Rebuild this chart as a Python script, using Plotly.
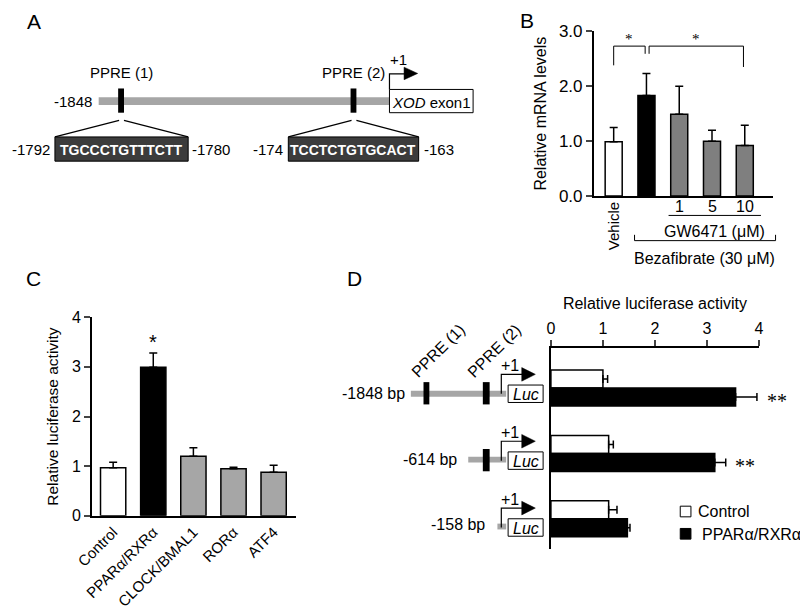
import plotly.graph_objects as go

# ---------------- data ----------------
b_groups = ["Vehicle", "Bezafibrate", "GW6471 1", "GW6471 5", "GW6471 10"]
b_values = [0.99, 1.83, 1.49, 1.00, 0.92]
b_errors = [0.26, 0.40, 0.51, 0.20, 0.37]
b_colors = ["white", "black", "#7f7f7f", "#7f7f7f", "#7f7f7f"]
b_dose_labels = ["1", "5", "10"]

c_groups = ["Control", "PPARα/RXRα", "CLOCK/BMAL1", "RORα", "ATF4"]
c_values = [0.97, 2.99, 1.20, 0.95, 0.88]
c_errors = [0.11, 0.29, 0.17, 0.03, 0.14]
c_colors = ["white", "black", "#a6a6a6", "#a6a6a6", "#a6a6a6"]

d_constructs = ["-1848 bp", "-614 bp", "-158 bp"]
d_control = [1.00, 1.11, 1.11]
d_control_err = [0.09, 0.09, 0.16]
d_ppar = [3.55, 3.15, 1.47]
d_ppar_err = [0.41, 0.21, 0.05]

W, H = 800, 616
FONT = "Liberation Sans, Arial, sans-serif"
SERIF = "Liberation Serif, Times New Roman, serif"


def px(x):
    return x / W


def py(y):
    return 1 - y / H


shapes = []
annotations = []


def rect(x0, y0, x1, y1, fill, line="black", lw=1):
    shapes.append(dict(type="rect", xref="paper", yref="paper",
                       x0=px(x0), x1=px(x1), y0=py(y1), y1=py(y0),
                       fillcolor=fill, line=dict(color=line, width=lw)))


def line(x0, y0, x1, y1, color="black", lw=1.2):
    shapes.append(dict(type="line", xref="paper", yref="paper",
                       x0=px(x0), x1=px(x1), y0=py(y0), y1=py(y1),
                       line=dict(color=color, width=lw)))


def path(pts, fill=None, color="black", lw=1.2, close=False):
    d = "M " + " L ".join(f"{px(x)},{py(y)}" for x, y in pts)
    if close:
        d += " Z"
    s = dict(type="path", xref="paper", yref="paper", path=d,
             line=dict(color=color, width=lw))
    if fill:
        s["fillcolor"] = fill
    shapes.append(s)


def text(x, y, t, size=16, xanchor="center", color="black", angle=0, family=FONT):
    annotations.append(dict(x=px(x), y=py(y), xref="paper", yref="paper",
                            text=t, showarrow=False, xanchor=xanchor, yanchor="middle",
                            textangle=angle, font=dict(size=size, color=color, family=family)))


# panel labels
text(17, 13, "A", size=21)
text(524, 12, "B", size=21)
text(17, 278, "C", size=21)
text(347, 278, "D", size=21)

# ---------------- Panel A diagram ----------------
rect(84, 91, 383, 99, "#a6a6a6", line="#a6a6a6", lw=0)
rect(104, 82, 110, 107, "black", lw=0)
rect(343, 82, 349, 107, "black", lw=0)
rect(383, 83, 469, 107, "white", lw=1)
text(426, 96, "<i>XOD</i> exon1", size=15)
text(79, 95, "-1848", size=15, xanchor="right")
text(107, 66, "PPRE (1)", size=15)
text(346, 66, "PPRE (2)", size=15)
path([(383, 83), (383, 67), (399, 67)], lw=1.2)
path([(398, 60), (412, 66.5), (398, 73)], fill="black", lw=0.5, close=True)
text(392, 52, "+1", size=15)
line(105, 115, 39, 132)
line(110, 115, 176, 132)
line(344, 115, 279, 132)
line(349, 115, 413, 132)
rect(39, 132, 176, 157, "#3c3c3c", lw=1)
rect(279, 132, 413, 157, "#3c3c3c", lw=1)
text(107.5, 145, "<b>TGCCCTGTTTCTT</b>", size=14, color="white")
text(346, 145, "<b>TCCTCTGTGCACT</b>", size=14, color="white")
text(36, 145, "-1792", size=15, xanchor="right")
text(178, 145, "-1780", size=15, xanchor="left")
text(276, 145, "-174", size=15, xanchor="right")
text(416, 145, "-163", size=15, xanchor="left")


# ---------------- Panel D diagrams ----------------
def luc(cy):
    rect(505, cy - 9, 541, cy + 9, "white", lw=1)
    text(523, cy + 1, "<i>Luc</i>", size=16)
    path([(498, cy), (498, cy - 20), (520, cy - 20)], lw=1.2)
    path([(519, cy - 27), (533, cy - 20), (519, cy - 13)], fill="black", lw=0.5, close=True)
    text(507, cy - 29, "+1", size=16)


rect(405, 394, 503, 400, "#a6a6a6", line="#a6a6a6", lw=0)
rect(418, 385, 424, 408, "black", lw=0)
rect(479, 385, 486, 408, "black", lw=0)
luc(397)
text(401, 397, d_constructs[0], size=16, xanchor="right")
text(433, 352, "PPRE (1)", size=16, angle=-45)
text(491, 352, "PPRE (2)", size=16, angle=-45)
rect(464, 462, 503, 468, "#a6a6a6", line="#a6a6a6", lw=0)
rect(479, 454, 486, 477, "black", lw=0)
luc(466)
text(455, 465, d_constructs[1], size=16, xanchor="right")
rect(494, 531, 503, 537, "#a6a6a6", line="#a6a6a6", lw=0)
luc(535)
text(483, 532, d_constructs[2], size=16, xanchor="right")

# legend
rect(682, 513, 693, 524, "white", lw=1)
text(698, 519, "Control", size=16, xanchor="left")
rect(682, 536, 693, 547, "black", lw=1)
text(702, 542, "PPARα/RXRα", size=16, xanchor="left")

# ---------------- Panel B annotations ----------------
text(613, 224, "Vehicle", size=15, angle=-90)
for i, lab in enumerate(b_dose_labels):
    annotations.append(dict(x=i + 2, y=py(204), xref="x", yref="paper", text=lab,
                            showarrow=False, yanchor="middle",
                            font=dict(size=16, family=FONT)))
line(670, 213, 765, 213, lw=1)
text(717, 230, "GW6471 (μM)", size=16)
path([(635, 233), (635, 239), (780, 239), (780, 233)], lw=1)
text(707, 257, "Bezafibrate (30 μM)", size=16)

# significance brackets (data coords of B)
shapes.append(dict(type="path", xref="x", yref="y",
                   path="M 0,2.38 L 0,2.73 L 0.96,2.73 L 0.96,2.59",
                   line=dict(color="black", width=1)))
shapes.append(dict(type="path", xref="x", yref="y",
                   path="M 1.08,2.59 L 1.08,2.73 L 3.96,2.73 L 3.96,2.35",
                   line=dict(color="black", width=1)))
for xs in (0.48, 2.52):
    annotations.append(dict(x=xs, y=py(31), xref="x", yref="paper", text="*", showarrow=False,
                            yanchor="middle", font=dict(size=15, family=SERIF)))

# star C
annotations.append(dict(x=1, y=c_values[1] + c_errors[1] + 0.22, xref="x2", yref="y2", text="*",
                        showarrow=False, font=dict(size=20, family=FONT)))

# stars D (x placed in paper space from the data values, since they lie past the axis end)
D_X0, D_X1, D_MAX = 549, 763, 4.0
for i in range(2):
    xv = d_ppar[i] + d_ppar_err[i]
    xpix = D_X0 + xv / D_MAX * (D_X1 - D_X0) + 8
    annotations.append(dict(x=px(xpix), y=i + 0.2, xref="paper", yref="y3",
                            text="**", showarrow=False, xanchor="left", yanchor="middle",
                            font=dict(size=20, family=SERIF)))

# ---------------- traces ----------------
fig = go.Figure()
fig.add_trace(go.Bar(x=list(range(len(b_groups))), y=b_values, width=0.52,
                     marker=dict(color=b_colors, line=dict(color="black", width=1.5)),
                     error_y=dict(type="data", array=b_errors, arrayminus=[0] * len(b_errors),
                                  color="black", thickness=1.5, width=4),
                     xaxis="x", yaxis="y", showlegend=False))
fig.add_trace(go.Bar(x=c_groups, y=c_values, width=0.63,
                     marker=dict(color=c_colors, line=dict(color="black", width=1.5)),
                     error_y=dict(type="data", array=c_errors, arrayminus=[0] * len(c_errors),
                                  color="black", thickness=1.5, width=4),
                     xaxis="x2", yaxis="y2", showlegend=False))
fig.add_trace(go.Bar(y=list(range(3)), x=d_control, orientation="h", name="Control",
                     marker=dict(color="white", line=dict(color="black", width=1.5)),
                     error_x=dict(type="data", array=d_control_err, arrayminus=[0] * 3,
                                  color="black", thickness=1.5, width=4),
                     xaxis="x3", yaxis="y3", showlegend=False))
fig.add_trace(go.Bar(y=list(range(3)), x=d_ppar, orientation="h", name="PPARα/RXRα",
                     marker=dict(color="black", line=dict(color="black", width=1.5)),
                     error_x=dict(type="data", array=d_ppar_err, arrayminus=[0] * 3,
                                  color="black", thickness=1.5, width=4),
                     xaxis="x3", yaxis="y3", showlegend=False))

axis_common = dict(showgrid=False, zeroline=False, showline=True, linecolor="black", linewidth=1.5)


def tf(size):
    return dict(size=size, family=FONT, color="black")


fig.update_layout(
    width=W, height=H, margin=dict(l=0, r=0, t=0, b=0),
    paper_bgcolor="white", plot_bgcolor="white",
    barmode="group", bargap=0.45, bargroupgap=0,
    font=dict(family=FONT, color="black"),
    shapes=shapes, annotations=annotations,
    xaxis=dict(domain=[px(593), px(777)], range=[-0.61, 4.85], showticklabels=False, ticks="",
               anchor="y", **axis_common),
    yaxis=dict(domain=[py(193), py(23)], range=[0, 3.0], tickvals=[0, 1, 2, 3],
               ticktext=["0.0", "1.0", "2.0", "3.0"], ticks="outside", ticklen=6, tickwidth=1.5,
               tickfont=tf(17), anchor="x",
               title=dict(text="Relative mRNA levels", font=tf(16), standoff=8),
               **axis_common),
    xaxis2=dict(domain=[px(77), px(287)], range=[-0.53, 4.56], ticks="", tickangle=-45,
                tickfont=tf(15), anchor="y2", **axis_common),
    yaxis2=dict(domain=[py(523), py(318)], range=[0, 4], tickvals=[0, 1, 2, 3, 4], ticks="outside",
                ticklen=6, tickwidth=1.5, tickfont=tf(16), anchor="x2",
                title=dict(text="Relative luciferase activity", font=tf(15.5), standoff=10),
                **axis_common),
    xaxis3=dict(domain=[px(D_X0), px(D_X1)], range=[0, D_MAX], side="top", tickvals=[0, 1, 2, 3, 4],
                ticks="outside", ticklen=6, tickwidth=1.5, tickfont=tf(16), anchor="y3",
                title=dict(text="Relative luciferase activity", font=tf(16), standoff=6),
                **axis_common),
    yaxis3=dict(domain=[py(557), py(350)], range=[2.46, -0.61], showticklabels=False, ticks="",
                anchor="x3", **axis_common),
)

fig.write_html("out.html", config={"displayModeBar": False},
               post_script="document.body.style.margin='0px';")
